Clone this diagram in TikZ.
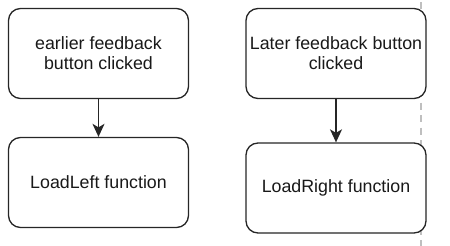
\documentclass[tikz,border=0pt]{standalone}
\usepackage{fontspec}
\setmainfont{Liberation Sans}
\usetikzlibrary{arrows.meta}
\begin{document}
\begin{tikzpicture}[x=1pt,y=-1pt,
  stepbox/.style={draw=black!85,line width=1.3pt,rounded corners=12pt,fill=white,
    minimum width=180pt,minimum height=90pt,align=center,inner sep=2pt,
    font=\fontsize{17.8pt}{20pt}\selectfont,text=black!90},
  flow/.style={draw=black!85,line width=1.5pt,-{Stealth[length=13pt,width=12pt,inset=3.5pt]}},
  divider/.style={draw=black!25,line width=2pt,dash pattern=on 7pt off 5.5pt,dash phase=10pt}]
  \useasboundingbox (0,0) rectangle (450,246);
  % separator behind the boxes
  \coordinate (dtop) at (421,0);
  \coordinate (dbot) at (421,246);
  \draw[divider] (dtop) -- (dbot);
  % left flow
  \node[stepbox] (eclick) at (98.5,53.5) {earlier feedback\\button clicked};
  \node[stepbox] (lleft) at (98.5,182.5) {LoadLeft function};
  % right flow
  \node[stepbox] (lclick) at (336,53.5) {Later feedback button\\clicked};
  \node[stepbox] (lright) at (336,188) {LoadRight function};
  \draw[flow] (eclick) -- (lleft);
  \draw[flow] (lclick) -- (lright);
\end{tikzpicture}
\end{document}
